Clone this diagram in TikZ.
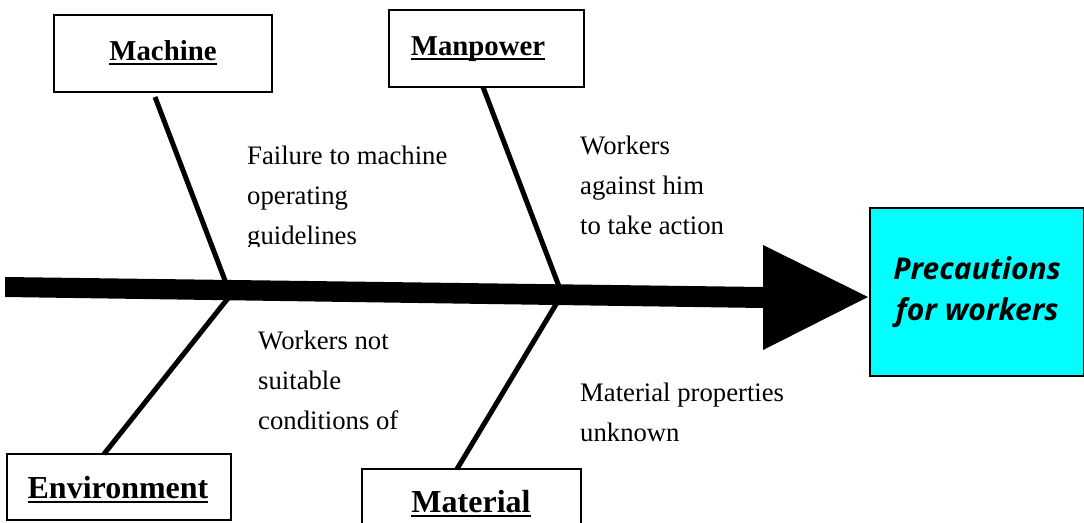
\documentclass[tikz,border=0pt]{standalone}
\usepackage{fontspec}
\setmainfont{Liberation Serif}
\newfontfamily\headfont{Open Sans}
\definecolor{effectfill}{RGB}{0,255,255}
\newcommand\ulbox[1]{\setbox0\hbox{#1}\rlap{\rule[-5pt]{\wd0}{2.4pt}}\box0}
\begin{document}
\begin{tikzpicture}[x=1pt,y=-1pt,
  catbox/.style={draw, line width=2.2pt, fill=white},
  cattext/.style={font=\fontsize{28.8}{34}\selectfont\bfseries, anchor=base},
  cattextbig/.style={font=\fontsize{32}{38}\selectfont\bfseries, anchor=base},
  bone/.style={line width=5pt},
  note/.style={font=\fontsize{26.7}{40}\selectfont, align=left, anchor=base west, inner sep=0pt}]
\useasboundingbox (0,0) rectangle (1084,522);

% spine with arrowhead
\fill (5,277) -- (763,287) -- (763,245) -- (868,297) -- (763,350) -- (763,308) -- (5,297) -- cycle;
\coordinate (jm) at (226,283);
\coordinate (jp) at (560,289);
\coordinate (je) at (229,297);
\coordinate (jt) at (558,301);

% effect box
\node[draw, line width=2.2pt, fill=effectfill, minimum width=214, minimum height=168, anchor=north west,
      font=\fontsize{30}{41}\selectfont\headfont\bfseries\itshape, align=center]
  (effect) at (869,207) {Precautions\\for workers};

% cause boxes
\draw[catbox] (54,15) rectangle (272,92);
\node[cattext] (machine) at (163,60) {\ulbox{Machine}};
\draw[catbox] (389,10) rectangle (584,87);
\node[cattext] (manpower) at (478,55) {\ulbox{Manpower}};
\draw[catbox] (7,454) rectangle (231,520);
\node[cattextbig] (environment) at (118,498) {\ulbox{Environment}};
\draw[catbox] (362,469) rectangle (581,526);
\node[cattextbig] (material) at (471,512) {\ulbox{Material}};

% bones
\coordinate (bm) at (155,97);
\coordinate (bp) at (483,87);
\coordinate (be) at (104,454);
\coordinate (bt) at (457,469);
\draw[bone] (bm) -- (jm);
\draw[bone] (bp) -- (jp);
\draw[bone] (be) -- (je);
\draw[bone] (bt) -- (jt);

% cause notes (base anchor sits on the last line)
\begin{scope}
\clip (240,120) rectangle (470,246);
\node[note] (n1) at (247,244) {Failure to machine\\operating\\guidelines};
\end{scope}
\node[note] (n2) at (580,234) {Workers\\against him\\to take action};
\node[note] (n3) at (258,429) {Workers not\\suitable\\conditions of};
\node[note] (n4) at (580,441) {Material properties\\unknown};
\end{tikzpicture}
\end{document}
